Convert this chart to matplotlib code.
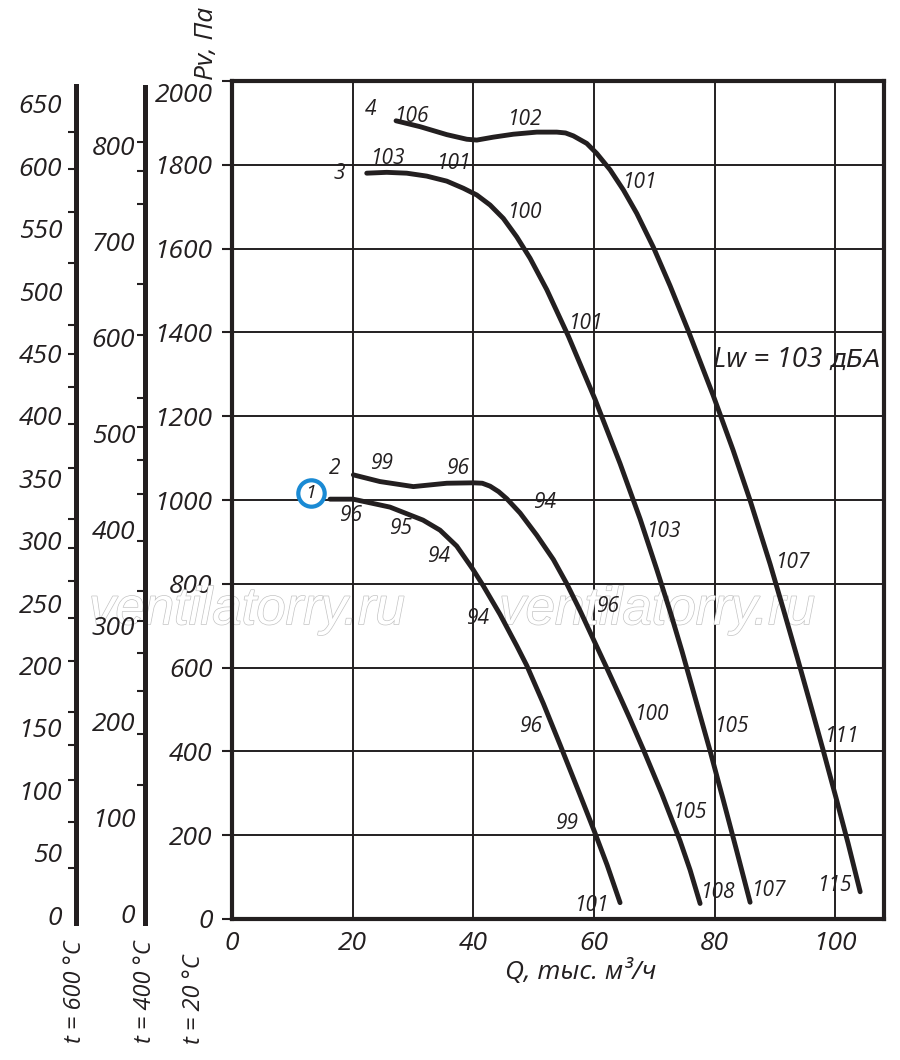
import matplotlib
matplotlib.use('Agg')
import matplotlib.pyplot as plt
import matplotlib.patheffects as pe
from matplotlib.offsetbox import TextArea, HPacker, AnnotationBbox

plt.rcParams['font.family'] = ['Open Sans', 'DejaVu Sans']
plt.rcParams['font.style'] = 'italic'

INK = '#231f20'
BLUE = '#1a8ad4'

# ---------------- data ----------------
q_axis_ticks = [0, 20, 40, 60, 80, 100]
pv_axis_ticks = [0, 200, 400, 600, 800, 1000, 1200, 1400, 1600, 1800, 2000]

# curve 1
q1 = [16.25, 20.07, 26.20, 31.67, 34.49, 37.26, 39.92, 41.67, 44.44, 47.21, 48.87,
      51.63, 54.39, 57.71, 60.03, 62.19, 64.34]
p1 = [1002, 1002, 983, 952, 928, 890, 835, 795, 727, 652, 605,
      514, 416, 296, 211, 129, 39]
# curve 2
q2 = [20.12, 24.54, 30.07, 35.61, 40.02, 41.5, 42.79, 44.2, 45.56, 47.76, 50.53,
      53.28, 55.51, 57.71, 60.03, 62.14, 64.34, 66.00, 68.21, 71.26, 74.30, 75.95, 77.61]
p2 = [1060, 1044, 1032, 1040, 1041, 1040, 1033, 1020, 1003, 969, 916,
      858, 800, 736, 664, 599, 530, 477, 404, 299, 186, 117, 37]
# curve 3
q3 = [22.34, 25.65, 28.97, 32.29, 35.61, 38.36, 40.58, 42.79, 44.99, 47.21, 49.42,
      52.19, 55.77, 60.20, 64.34, 67.66, 70.43, 72.64, 74.63, 77.06, 79.27, 81.43,
      83.58, 85.90]
p3 = [1780, 1782, 1780, 1773, 1761, 1744, 1728, 1704, 1672, 1628, 1577,
      1502, 1391, 1240, 1087, 955, 834, 734, 638, 514, 401, 285,
      168, 40]
# curve 4
q4 = [27.20, 31.18, 35.61, 38.92, 40.58, 43.33, 46.65, 50.53, 53.85, 55.3, 56.60, 58.82,
      60.48, 62.69, 64.89, 67.11, 69.87, 72.64, 75.62, 79.77, 83.08, 85.90, 89.22,
      91.38, 93.70, 95.85, 97.99, 100.15, 102.14, 104.15]
p4 = [1905, 1891, 1872, 1861, 1859, 1866, 1873, 1878, 1878, 1876, 1869, 1851,
      1827, 1788, 1740, 1684, 1603, 1511, 1405, 1250, 1119, 999, 847,
      741, 625, 515, 404, 289, 181, 65]

curves_q = [q1, q2, q3, q4]
curves_p = [p1, p2, p3, p4]

# curve numbers and sound-level labels
label_text = ['4', '106', '102', '3', '103', '101', '100', '101', '101',
              '2', '99', '96', '94', '96', '95', '94', '94', '96', '103', '107',
              '100', '105', '111', '96', '99', '105', '101', '108', '107', '115']
label_q = [23.05, 29.85, 48.6, 17.74, 25.87, 36.82, 48.59, 67.66, 58.7,
           17.08, 24.71, 37.31, 51.74, 19.73, 27.86, 34.16, 40.63, 62.19, 71.64, 93.03,
           69.65, 82.87, 101.1, 49.42, 55.39, 75.95, 59.65, 80.65, 89.1, 100.0]
label_pv = [1931, 1916, 1907, 1779, 1814, 1804, 1685, 1757, 1422,
            1074, 1088, 1076, 993, 962, 933, 864, 718, 745, 924, 852,
            489, 459, 435, 459, 227, 254, 33, 64, 69, 79]

circled_text = '1'
circled_q, circled_pv = 13.1, 1017

lw_text_a = 'Lw = 103 '
lw_text_b = 'дБА'
lw_q, lw_pv = 107.6, 1334

# auxiliary temperature scales
t600_labels = [0, 50, 100, 150, 200, 250, 300, 350, 400, 450, 500, 550, 600, 650]
t600_ticks = [627.7, 597.8, 563.1, 522.6, 472.6, 449.4, 423.1, 393.2, 358.4,
              317.6, 294.2, 268.0, 238.1, 203.3, 162.9, 136.4, 108.1, 74.9, 37.5]
t400_labels = [0, 100, 200, 300, 400, 500, 600, 700, 800]
t400_ticks = [803.4, 772.9, 738.2, 700.0, 655.2, 602.1, 537.2, 506.6, 472.6, 437.2,
              388.5, 336.5, 305.2, 271.2, 232.3, 187.2, 134.4]

watermark = 'ventilatorry.ru'
wm_q = [2.5, 70.5]
wm_pv = [737, 737]

# ---------------- figure ----------------
W, H = 900, 1060
fig = plt.figure(figsize=(W / 100, H / 100), dpi=100)

def fx(px):
    return px / W

def fy(py):
    return 1 - py / H

ax = fig.add_axes([fx(232), fy(919), fx(884) - fx(232), fy(81) - fy(919)])
ax.set_xlim(0, 108.1)
ax.set_ylim(0, 2000)
for s in ax.spines.values():
    s.set_linewidth(3.0)
    s.set_color(INK)
    s.set_zorder(5)

ax.set_xticks(q_axis_ticks)
ax.set_yticks(pv_axis_ticks)
ax.set_yticklabels([str(v) if v != 2000 else '' for v in pv_axis_ticks])
ax.tick_params(axis='x', length=0, pad=9, labelsize=19, colors=INK)
ax.tick_params(axis='y', length=7, width=1.5, pad=7, labelsize=19, colors=INK, direction='out')
ax.set_xticks([100], minor=True)
ax.tick_params(axis='x', which='minor', length=5, width=1.4, color=INK, direction='out')
ax.annotate('2000', xy=(0, 2000), xycoords=('axes fraction', 'data'),
            xytext=(-19, -14), textcoords='offset pixels', ha='right', va='center',
            fontsize=19, color=INK, annotation_clip=False)

ax.grid(True, color=INK, linewidth=1.4, zorder=1)
ax.set_axisbelow(True)

# watermark
for wq, wp in zip(wm_q, wm_pv):
    t = ax.text(wq, wp, watermark, ha='center', va='center', fontsize=38,
                family='Liberation Sans', style='italic', color='white',
                zorder=1.5, clip_on=False)
    t.set_path_effects([pe.Stroke(linewidth=1.0, foreground='#c4c4c4'), pe.Normal()])

for cq, cp in zip(curves_q, curves_p):
    ax.plot(cq, cp, color=INK, linewidth=3.5, solid_capstyle='round',
            solid_joinstyle='round', zorder=3)

for t, q, p in zip(label_text, label_q, label_pv):
    ax.text(q, p, t, ha='center', va='center', fontsize=15, color=INK, zorder=4)

ax.plot([circled_q], [circled_pv], marker='o', ms=19, mfc='white', mec=BLUE, mew=3,
        zorder=4, clip_on=False)
ax.text(circled_q, circled_pv, circled_text, ha='center', va='center', fontsize=14,
        color=INK, zorder=5, clip_on=False)

# Lw label: Cyrillic part in an oblique face so "д" keeps its descender form
ta = TextArea(lw_text_a, textprops=dict(fontsize=20, color=INK, family=['Open Sans'], style='italic'))
tb = TextArea(lw_text_b, textprops=dict(fontsize=18, color=INK, family=['DejaVu Sans'], style='oblique'))
box = HPacker(children=[ta, tb], pad=0, sep=0, align='baseline')
ab = AnnotationBbox(box, (lw_q, lw_pv), xycoords='data', box_alignment=(1.0, 0.5),
                    frameon=False, pad=0, zorder=4)
ax.add_artist(ab)

# axis titles
fig.text(fx(207), fy(43), 'Pv, Па', rotation=90, ha='center', va='center', fontsize=19, color=INK)
fig.text(fx(581), fy(972), 'Q, тыс. м³/ч', ha='center', va='center', fontsize=19, color=INK)

# auxiliary scales
def aux_axis(xpx, top_px, lims, labels, ticks, pad):
    a = fig.add_axes([fx(xpx), fy(923), 0.001, fy(top_px) - fy(923)])
    a.set_facecolor('none')
    a.set_ylim(*lims)
    a.set_xticks([])
    for k in ('right', 'top', 'bottom'):
        a.spines[k].set_visible(False)
    a.spines['left'].set_linewidth(3.6)
    a.spines['left'].set_color(INK)
    a.set_yticks(labels)
    a.set_yticklabels([str(v) for v in labels])
    a.set_yticks(ticks, minor=True)
    a.tick_params(axis='y', which='major', length=0, pad=pad, labelsize=19, colors=INK)
    a.tick_params(axis='y', which='minor', length=6, width=1.5, color=INK, direction='out')
    return a

aux_axis(76, 86, (-6.4, 664.4), t600_labels, t600_ticks, 10)
aux_axis(145, 87, (-9.4, 860.4), t400_labels, t400_ticks, 7)

fig.text(fx(75), fy(940), 't = 600 °C', rotation=90, ha='center', va='top', fontsize=17, color=INK)
fig.text(fx(145), fy(940), 't = 400 °C', rotation=90, ha='center', va='top', fontsize=17, color=INK)
fig.text(fx(194), fy(954), 't = 20 °C', rotation=90, ha='center', va='top', fontsize=17, color=INK)

fig.savefig('out.png', dpi=100)
